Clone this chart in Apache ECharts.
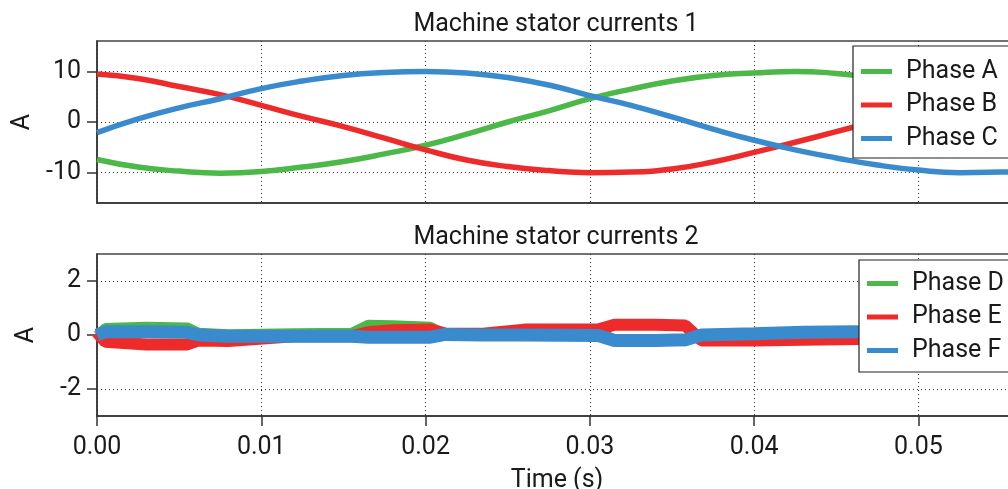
<!DOCTYPE html>
<html>
<head>
<meta charset="utf-8">
<script src="https://cdn.jsdelivr.net/npm/echarts/dist/echarts.min.js"></script>
<style>
  html, body { margin: 0; padding: 0; background: #fff; }
  #chart { width: 1008px; height: 489px; }
</style>
</head>
<body>
<div id="chart"></div>
<script>
// top plot: three stator currents (A)
const tTop = [0, 0.0025, 0.005, 0.0075, 0.01, 0.0125, 0.015, 0.0175, 0.02, 0.0225, 0.025, 0.0275,
  0.03, 0.0325, 0.035, 0.0375, 0.04, 0.0425, 0.045, 0.0475, 0.05, 0.0525, 0.055, 0.056]
const phaseA = [-7.4, -8.9, -9.7, -10.1, -9.8, -8.9, -7.8, -6.3, -4.6, -2.4, 0.0, 2.2,
  4.6, 6.5, 8.1, 9.2, 9.7, 10.0, 9.6, 8.7, 7.3, 5.6, 3.8, 3.2]
const phaseB = [9.5, 8.6, 7.0, 5.4, 3.3, 1.1, -0.9, -3.2, -5.5, -7.5, -8.8, -9.6,
  -10.0, -9.9, -9.3, -7.9, -6.0, -4.0, -1.9, 0.2, 2.2, 4.0, 5.6, 6.1]
const phaseC = [-2.1, 0.6, 2.8, 4.6, 6.6, 8.1, 9.2, 9.8, 10.0, 9.7, 8.8, 7.3,
  5.2, 3.3, 1.0, -1.4, -3.6, -5.5, -7.1, -8.5, -9.5, -10.0, -9.9, -9.8]

// bottom plot: three small currents (A)
const tBot = [0, 0.0005, 0.003, 0.0055, 0.0062, 0.008, 0.012, 0.0155, 0.0165, 0.018, 0.0203, 0.0212,
  0.0235, 0.026, 0.0305, 0.0315, 0.034, 0.0358, 0.0368, 0.040, 0.043, 0.0462, 0.0468, 0.050, 0.056]
const phaseD = [0.0, 0.28, 0.32, 0.3, 0.1, 0.05, 0.08, 0.1, 0.4, 0.38, 0.32, 0.05,
  0.05, 0.1, 0.15, -0.15, -0.2, -0.25, 0.0, 0.0, 0.0, 0.0, -0.25, -0.25, -0.25]
const phaseE = [0.1, -0.25, -0.35, -0.35, -0.2, -0.22, -0.05, -0.05, 0.1, 0.18, 0.2, 0.05,
  0.05, 0.2, 0.2, 0.38, 0.38, 0.35, -0.2, -0.2, -0.18, -0.15, -0.15, -0.1, -0.1]
const phaseF = [0.0, 0.12, 0.12, 0.1, 0.0, -0.05, -0.05, -0.05, -0.08, -0.08, -0.08, 0.02,
  0.0, 0.0, -0.02, -0.2, -0.2, -0.18, 0.0, 0.05, 0.1, 0.12, 0.12, 0.12, 0.12]

const titles = ['Machine stator currents 1', 'Machine stator currents 2']
const namesTop = ['Phase A', 'Phase B', 'Phase C']
const namesBot = ['Phase D', 'Phase E', 'Phase F']
const yTicksTop = [-10, 0, 10]
const yTicksBot = [-2, 0, 2]

const GREEN = '#4cb848', RED = '#ee2b2b', BLUE = '#3a8bcd'
const FONT = 'Roboto'
const FS = 25
const INK = '#1a1a1a'

const pairs = (t, v) => t.map((x, i) => [x, v[i]])

const gridLine = { show: true, lineStyle: { color: '#333', width: 1, type: [1, 3] } }

function xAx(idx, labels) {
  return {
    type: 'value', gridIndex: idx, min: 0, max: 0.056, interval: 0.01,
    axisLine: { show: true, onZero: false, lineStyle: { color: '#333', width: 1.5 } },
    axisTick: { show: labels, length: 10, lineStyle: { color: '#333', width: 1.5 } },
    axisLabel: { show: labels, showMaxLabel: false, fontFamily: FONT, fontSize: FS, color: INK, margin: 19,
      formatter: v => v.toFixed(2) },
    splitLine: gridLine,
    name: labels ? 'Time (s)' : '', nameLocation: 'middle', nameGap: 52,
    nameTextStyle: { fontFamily: FONT, fontSize: FS, color: INK }
  }
}
function yAx(idx, min, max, ticks) {
  return {
    type: 'value', gridIndex: idx, min: min, max: max,
    axisLine: { show: true, onZero: false, lineStyle: { color: '#333', width: 1.5 } },
    axisTick: { show: true, length: 10, customValues: ticks, lineStyle: { color: '#333', width: 1.5 } },
    axisLabel: { customValues: ticks, fontFamily: FONT, fontSize: FS, color: INK, margin: 16 },
    splitLine: gridLine,
    name: 'A', nameLocation: 'middle', nameGap: 58,
    nameTextStyle: { fontFamily: FONT, fontSize: FS, color: INK }
  }
}
function line(name, color, data, xi, width, smooth) {
  return {
    name: name, type: 'line', xAxisIndex: xi, yAxisIndex: xi, data: data,
    showSymbol: false, smooth: smooth, animation: false,
    lineStyle: { color: color, width: width, join: 'bevel' }, itemStyle: { color: color }
  }
}
function legend(names, left, top, pad) {
  return {
    data: names, orient: 'vertical', left: left, top: top,
    icon: 'rect', itemWidth: 31, itemHeight: 5, itemGap: 8.5,
    padding: pad,
    backgroundColor: '#fff', borderColor: '#222', borderWidth: 1.2,
    textStyle: { fontFamily: FONT, fontSize: FS, color: INK, padding: [0, 0, 0, 9] }
  }
}

const chart = echarts.init(document.getElementById('chart'))
chart.setOption({
  animation: false,
  title: [
    { text: titles[0], left: 556, top: 12, textAlign: 'center', padding: 0,
      textStyle: { fontFamily: FONT, fontSize: FS, fontWeight: 'normal', color: INK } },
    { text: titles[1], left: 556, top: 225, textAlign: 'center', padding: 0,
      textStyle: { fontFamily: FONT, fontSize: FS, fontWeight: 'normal', color: INK } }
  ],
  legend: [
    legend(namesTop, 853, 46, [13, 30, 7, 8]),
    legend(namesBot, 859, 260, [11, 30, 9, 8])
  ],
  grid: [
    { left: 97, top: 41, right: -9, height: 162, show: true, borderColor: '#444', borderWidth: 1.5,
      outerBoundsMode: 'none', containLabel: false },
    { left: 97, top: 254, right: -9, height: 162, show: true, borderColor: '#444', borderWidth: 1.5,
      outerBoundsMode: 'none', containLabel: false }
  ],
  xAxis: [xAx(0, false), xAx(1, true)],
  yAxis: [yAx(0, -16, 16, yTicksTop), yAx(1, -3, 3, yTicksBot)],
  series: [
    line(namesTop[0], GREEN, pairs(tTop, phaseA), 0, 5.5, true),
    line(namesTop[1], RED, pairs(tTop, phaseB), 0, 5.5, true),
    line(namesTop[2], BLUE, pairs(tTop, phaseC), 0, 5.5, true),
    line(namesBot[0], GREEN, pairs(tBot, phaseD), 1, 9, false),
    line(namesBot[1], RED, pairs(tBot, phaseE), 1, 12, false),
    line(namesBot[2], BLUE, pairs(tBot, phaseF), 1, 13, false)
  ]
})
</script>
</body>
</html>
